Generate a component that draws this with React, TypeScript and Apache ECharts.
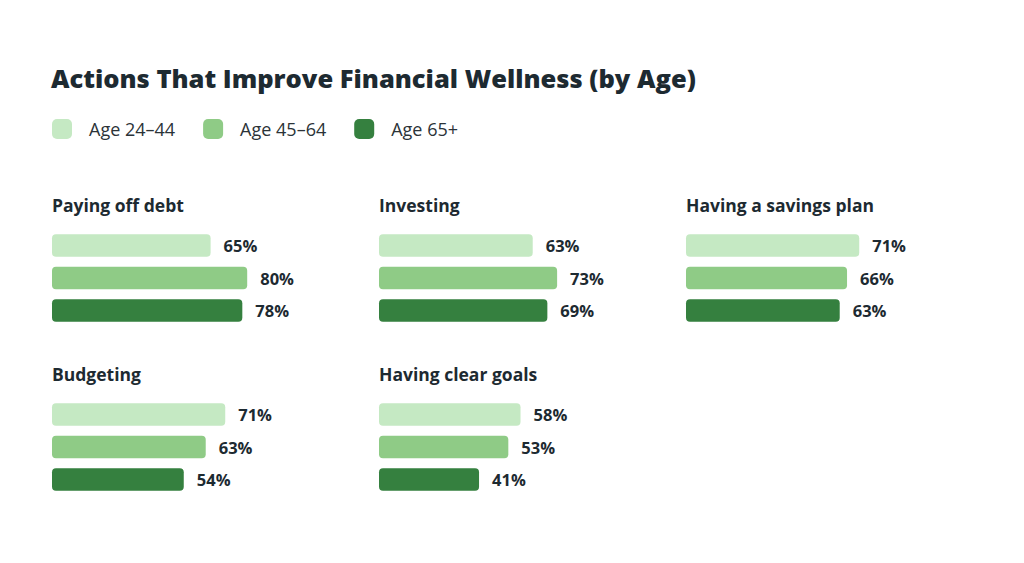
import React, { useEffect, useRef } from "react";
import * as echarts from "echarts";

const TITLE = "Actions That Improve Financial Wellness (by Age)";
const AGE_GROUPS = ["Age 24–44", "Age 45–64", "Age 65+"];
const ACTIONS = ["Paying off debt", "Investing", "Having a savings plan", "Budgeting", "Having clear goals"];
const AGE_24_44 = [65, 63, 71, 71, 58];
const AGE_45_64 = [80, 73, 66, 63, 53];
const AGE_65_PLUS = [78, 69, 63, 54, 41];
const COLORS = ["#c5e9c3", "#8fcb86", "#35803f"];
const FONT = "Open Sans";
const TEXT = "#1d2a31";

export default function App() {
  const ref = useRef<HTMLDivElement>(null);
  useEffect(() => {
    if (!ref.current) return;
    const chart = echarts.init(ref.current, undefined, { renderer: "svg" });
    const colX = [52, 379, 686];
    const rowTop = [229.3, 398.3];
    const titleY = [191, 360];
    const grids: any[] = [];
    const xAxes: any[] = [];
    const yAxes: any[] = [];
    const series: any[] = [];
    const titles: any[] = [
      {
        text: TITLE,
        left: 46,
        top: 60,
        textStyle: { fontFamily: FONT, fontWeight: 800, fontSize: 25.5, color: TEXT },
      },
    ];
    ACTIONS.forEach((name, i) => {
      const col = i % 3;
      const row = Math.floor(i / 3);
      grids.push({ left: colX[col], top: rowTop[row], width: 244, height: 97.5, containLabel: false });
      xAxes.push({ type: "value", gridIndex: i, min: 0, max: 100, show: false });
      yAxes.push({ type: "category", gridIndex: i, data: AGE_GROUPS, inverse: true, show: false });
      titles.push({
        text: name,
        left: colX[col] - 5,
        top: titleY[row],
        textStyle: { fontFamily: FONT, fontWeight: 700, fontSize: 17.5, color: TEXT },
      });
      const vals = [AGE_24_44[i], AGE_45_64[i], AGE_65_PLUS[i]];
      series.push({
        type: "bar",
        name: name,
        xAxisIndex: i,
        yAxisIndex: i,
        barWidth: 22.5,
        data: vals.map((v, k) => ({ value: v, itemStyle: { color: COLORS[k], borderRadius: 4 } })),
        label: {
          show: true,
          position: "right",
          distance: 13,
          formatter: "{c}%",
          fontFamily: FONT,
          fontWeight: 700,
          fontSize: 16.5,
          color: TEXT,
        },
      });
    });
    // hidden grid holding legend-only series
    grids.push({ left: 0, top: 0, width: 1, height: 1, show: false });
    xAxes.push({ type: "value", gridIndex: 5, show: false });
    yAxes.push({ type: "category", gridIndex: 5, show: false, data: ["x"] });
    AGE_GROUPS.forEach((g, k) => {
      series.push({
        type: "bar",
        name: g,
        xAxisIndex: 5,
        yAxisIndex: 5,
        data: [],
        itemStyle: { color: COLORS[k] },
      });
    });
    chart.setOption({
      animation: false,
      backgroundColor: "#ffffff",
      title: titles,
      legend: {
        data: AGE_GROUPS.map((g) => ({ name: g, icon: "roundRect" })),
        left: 47,
        top: 114,
        itemWidth: 20,
        itemHeight: 20,
        itemGap: 28,
        textStyle: { fontFamily: FONT, fontSize: 18, color: "#2b3338", padding: [0, 0, 0, 12] },
        selectedMode: false,
      },
      grid: grids,
      xAxis: xAxes,
      yAxis: yAxes,
      series,
    });
    return () => chart.dispose();
  }, []);
  return <div ref={ref} style={{ width: 1024, height: 563, margin: -8 }} />;
}
